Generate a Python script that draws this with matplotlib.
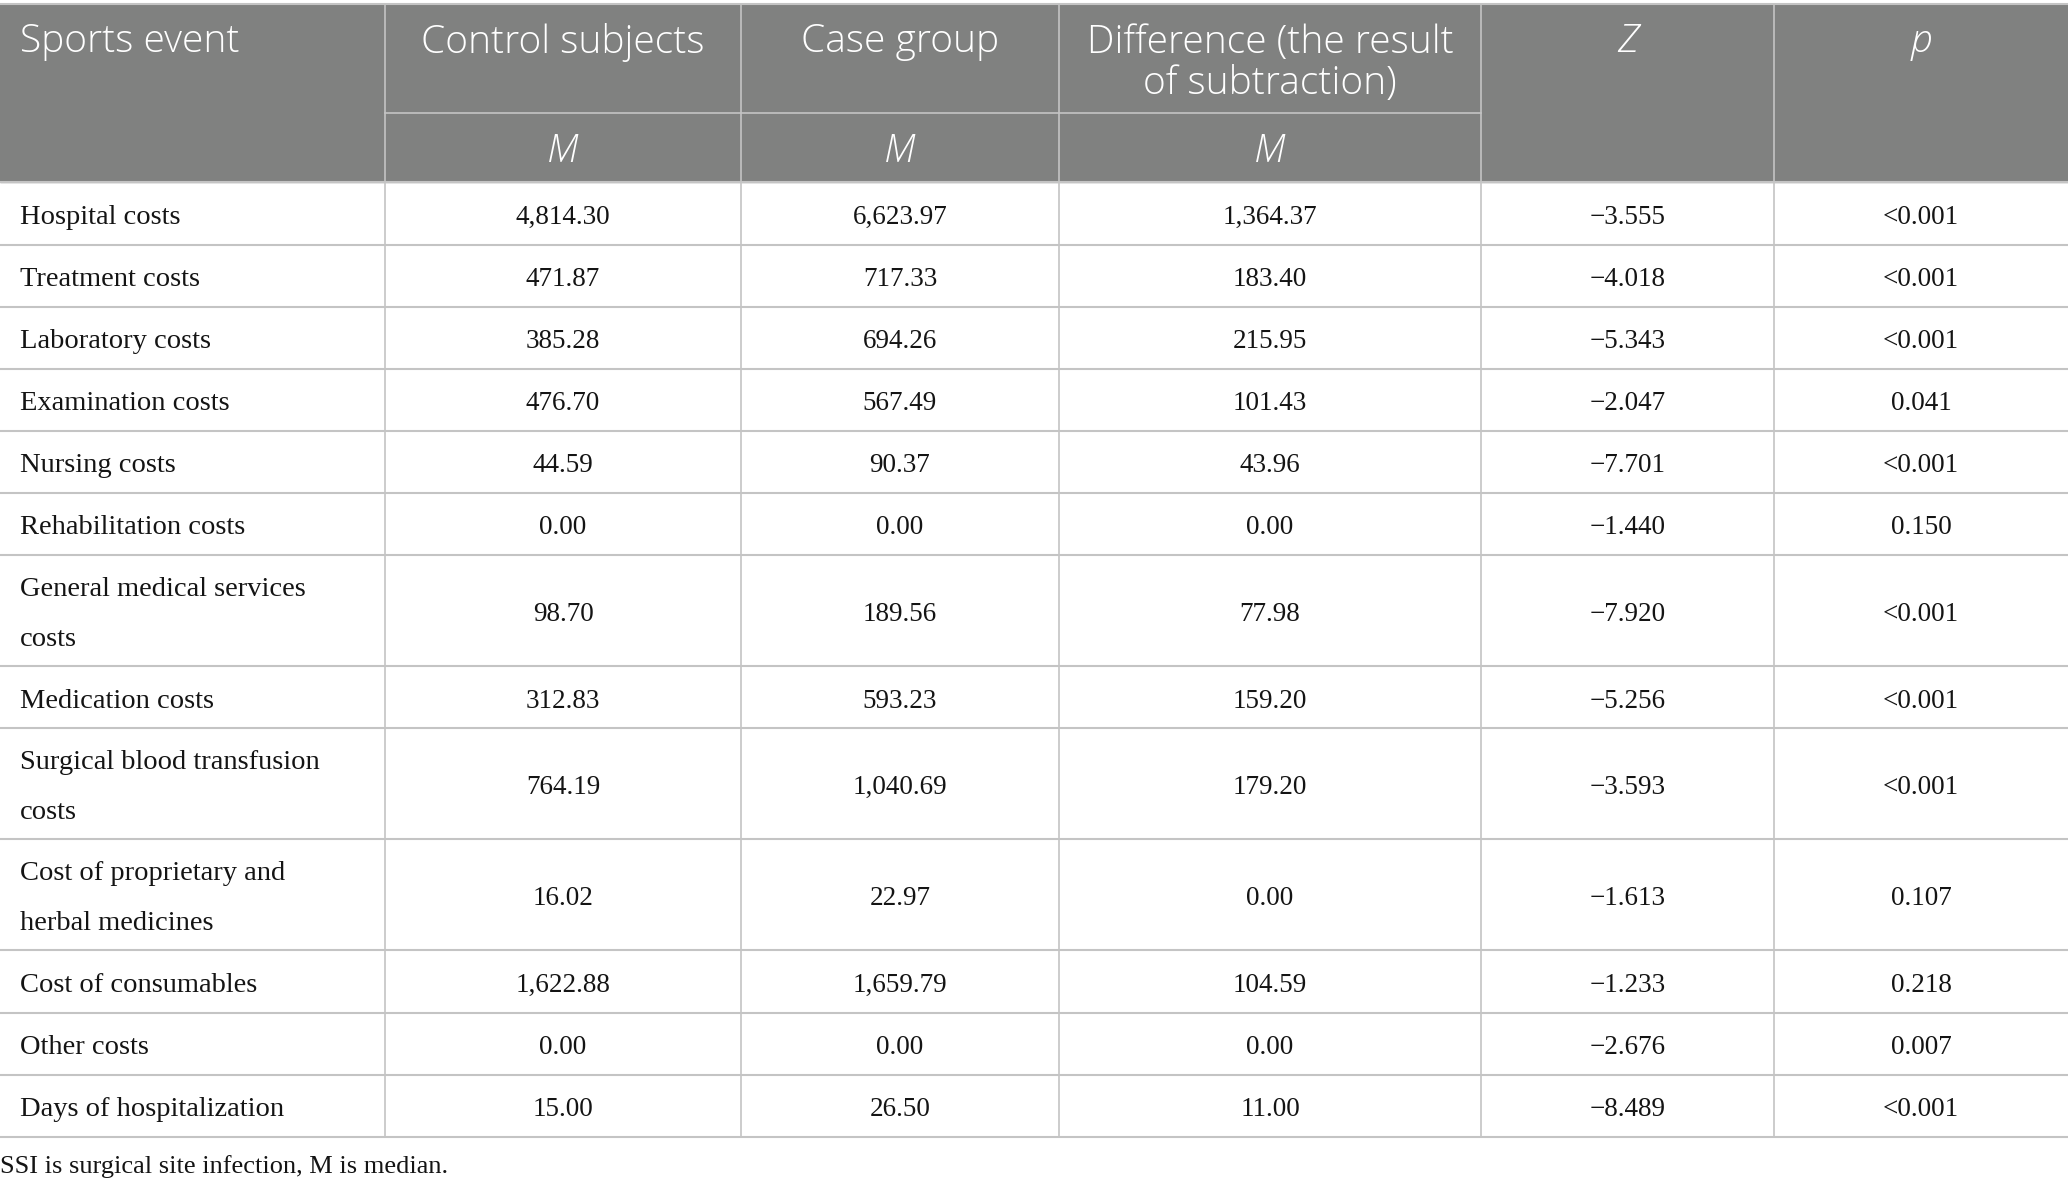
import matplotlib
matplotlib.use('Agg')
import matplotlib.pyplot as plt
from matplotlib.patches import Rectangle

items = ['Hospital costs', 'Treatment costs', 'Laboratory costs', 'Examination costs',
         'Nursing costs', 'Rehabilitation costs', 'General medical services\ncosts',
         'Medication costs', 'Surgical blood transfusion\ncosts',
         'Cost of proprietary and\nherbal medicines', 'Cost of consumables',
         'Other costs', 'Days of hospitalization']
control = ['4,814.30', '471.87', '385.28', '476.70', '44.59', '0.00', '98.70',
           '312.83', '764.19', '16.02', '1,622.88', '0.00', '15.00']
case = ['6,623.97', '717.33', '694.26', '567.49', '90.37', '0.00', '189.56',
        '593.23', '1,040.69', '22.97', '1,659.79', '0.00', '26.50']
diff = ['1,364.37', '183.40', '215.95', '101.43', '43.96', '0.00', '77.98',
        '159.20', '179.20', '0.00', '104.59', '0.00', '11.00']
z = ['\u22123.555', '\u22124.018', '\u22125.343', '\u22122.047', '\u22127.701',
     '\u22121.440', '\u22127.920', '\u22125.256', '\u22123.593', '\u22121.613',
     '\u22121.233', '\u22122.676', '\u22128.489']
p = ['<0.001', '<0.001', '<0.001', '0.041', '<0.001', '0.150', '<0.001',
     '<0.001', '<0.001', '0.107', '0.218', '0.007', '<0.001']
headers = ['Sports event', 'Control subjects', 'Case group',
           'Difference (the result\nof subtraction)', 'Z', 'p']
footnote = 'SSI is surgical site infection, M is median.'

W, H = 2068, 1190
fig = plt.figure(figsize=(W / 100, H / 100), dpi=100)
ax = fig.add_axes([0, 0, 1, 1])
ax.set_xlim(0, W)
ax.set_ylim(H, 0)
ax.axis('off')

cols = [0, 385, 741, 1059, 1481, 1774, 2068]
head_top, head_mid, head_bot = 4, 113, 182
rows = [182, 245, 307, 369, 431, 493, 555, 666, 728, 839, 950, 1013, 1075, 1137]

gray = '#808180'
line = '#c4c4c4'
serif = 'Liberation Serif'
sans = 'Open Sans'
ink = '#141414'

ax.add_patch(Rectangle((0, head_top), W, head_bot - head_top, color=gray, zorder=0))

# grid lines
ax.plot([0, W], [head_top, head_top], color=line, lw=1.5)
ax.plot([cols[1], cols[4]], [head_mid, head_mid], color=line, lw=1.2)
for y in rows:
    ax.plot([0, W], [y, y], color=line, lw=1.5)
for x in cols[1:-1]:
    ax.plot([x, x], [head_top, rows[-1]], color=line, lw=1.2)

# header text
hsize = 28
ax.text(20, 42, headers[0], ha='left', va='center', color='white',
        fontsize=hsize, family=sans, fontweight='light')
for i in range(1, 6):
    cx = (cols[i] + cols[i + 1]) / 2
    style = 'italic' if headers[i] in ('Z', 'p') else 'normal'
    ax.text(cx, 42 if i != 3 else 63, headers[i], ha='center', va='center',
            color='white', fontsize=hsize, family=sans, fontstyle=style,
            fontweight='light', linespacing=1.1)
for i in range(1, 4):
    cx = (cols[i] + cols[i + 1]) / 2
    ax.text(cx, 152, 'M', ha='center', va='center', color='white',
            fontsize=hsize, family=sans, fontstyle='italic', fontweight='light')

# body
for r in range(len(items)):
    cy = (rows[r] + rows[r + 1]) / 2 + 4
    ax.text(20, cy, items[r], ha='left', va='center', fontsize=20.5,
            family=serif, color=ink, linespacing=2.3)
    for c, vals in enumerate([control, case, diff, z, p]):
        cx = (cols[c + 1] + cols[c + 2]) / 2
        ax.text(cx, cy, vals[r], ha='center', va='center', fontsize=19.5,
                family=serif, color=ink)

ax.text(0, 1167, footnote, ha='left', va='center', fontsize=19,
        family=serif, color=ink)

fig.savefig('out.png', dpi=100)
